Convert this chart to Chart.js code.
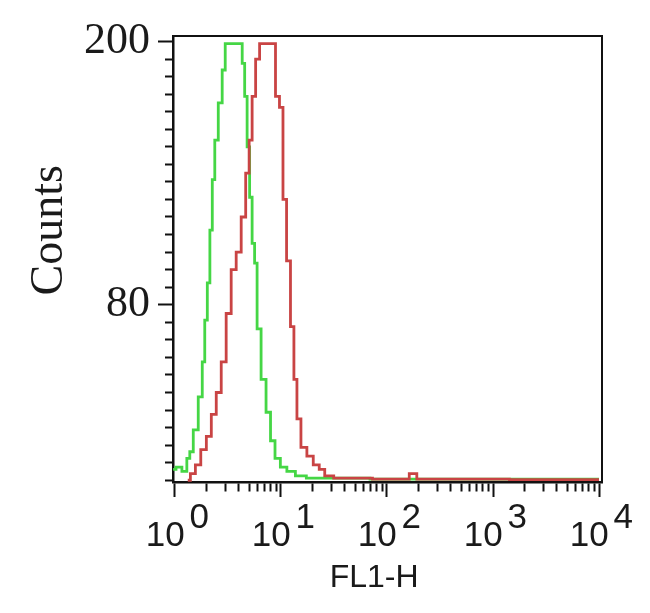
<!DOCTYPE html>
<html><head><meta charset="utf-8">
<script src="https://cdn.jsdelivr.net/npm/chart.js@4.4.0/dist/chart.umd.min.js"></script>
<style>html,body{margin:0;padding:0;background:#fff}#wrap{width:650px;height:613px}</style>
</head><body><div id="wrap"><canvas id="c" width="650" height="613"></canvas></div>
<script>
// FL1-H channel values and counts
const greenFL1 = [0.96,1.09,1.24,1.35,1.41,1.57,1.75,1.87,1.95,2.09,2.18,2.32,2.43,2.70,2.88,3.08,3.58,4.17,4.45,4.64,4.95,5.17,5.52,5.76,6.15,6.85,7.63,8.32,9.27,10.5,12.3,15.2,19.8,36.2,132,10000];
const greenCounts = [5,6,4,10,13,23,38,54,73,90,114,137,155,172,187,199,199,199,190,175,152,129,108,99,69,46,31,18,10,6,4,2,1,1,0.5,0.5];
const redFL1 = [1.32,1.48,1.64,1.87,2.09,2.32,2.59,2.88,3.21,3.58,3.99,4.45,4.85,5.17,5.52,6.02,6.56,7.47,8.50,9.27,10.1,10.8,11.8,12.8,13.7,14.6,16.3,18.9,21.5,24.5,27.3,36.2,147,179,204,10000];
const redCounts = [0,3,7,14,20,30,40,54,76,96,104,120,140,155,175,192,199,199,199,175,170,128,100,70,46,28,15,11,7,5,2,1,0.5,3,0.5,0.3];

const xDecades = [1, 10, 100, 1000, 10000];
const xExponents = ['0', '1', '2', '3', '4'];
const xMinorMultipliers = [2, 3, 4, 5, 6, 7, 8, 9];
const yTickValues = [0,8,16,24,32,40,48,56,64,72,80,88,96,104,112,120,128,136,144,152,160,168,176,184,192,200];
const yLabeledTicks = [80, 200];
const xTitle = 'FL1-H';
const yTitle = 'Counts';

const xTickValues = xDecades.slice();
xDecades.slice(0, -1).forEach(d => xMinorMultipliers.forEach(m => xTickValues.push(d * m)));
xTickValues.sort((a, b) => a - b);

const isMajorX = v => xDecades.some(d => Math.abs(d - v) < 1e-9 * d);
const isLabeledY = v => yLabeledTicks.includes(v);

const framePlugin = {
  id: 'frame',
  afterDraw(chart) {
    const {ctx, chartArea: a} = chart;
    ctx.save();
    ctx.strokeStyle = '#111';
    ctx.lineWidth = 2;
    ctx.beginPath();
    ctx.moveTo(a.left, a.top); ctx.lineTo(a.right, a.top); ctx.lineTo(a.right, a.bottom);
    ctx.stroke();
    ctx.restore();
  }
};

const sansFont = "'Liberation Sans', Arial, sans-serif";
const serifFont = "'Liberation Serif', 'Times New Roman', serif";

new Chart(document.getElementById('c'), {
  type: 'line',
  data: {
    datasets: [
      {
        label: 'red',
        data: redFL1.map((v, i) => ({x: v, y: redCounts[i]})),
        borderColor: '#c94444',
        borderWidth: 2.8,
        pointRadius: 0,
        stepped: 'middle',
        fill: false
      },
      {
        label: 'green',
        data: greenFL1.map((v, i) => ({x: v, y: greenCounts[i]})),
        borderColor: '#45d645',
        borderWidth: 2.8,
        pointRadius: 0,
        stepped: 'middle',
        fill: false
      }
    ]
  },
  options: {
    responsive: false,
    animation: false,
    devicePixelRatio: 1,
    layout: {padding: {top: 36, right: 48, left: 0, bottom: 0}},
    plugins: {legend: {display: false}, tooltip: {enabled: false}},
    scales: {
      x: {
        type: 'logarithmic',
        position: 'bottom',
        min: 0.958,
        max: 10670,
        afterBuildTicks: axis => { axis.ticks = xTickValues.map(v => ({value: v})); },
        afterFit: axis => { axis.height = 131; },
        border: {display: true, color: '#111', width: 2.5},
        grid: {
          drawOnChartArea: false,
          drawTicks: true,
          tickLength: 15,
          tickWidth: 2,
          tickColor: '#111',
          tickBorderDash: ctx => isMajorX(ctx.tick.value) ? [] : [8, 100]
        },
        ticks: {
          autoSkip: false,
          maxRotation: 0,
          minRotation: 0,
          padding: 13,
          color: '#1a1a1a',
          font: {family: sansFont, size: 35, lineHeight: 0.5},
          callback: (v) => {
            const i = xDecades.findIndex(d => Math.abs(d - v) < 1e-9 * d);
            return i < 0 ? '' : ['     ' + xExponents[i], '10  '];
          }
        },
        title: {
          display: true,
          text: xTitle + '   ',
          color: '#1a1a1a',
          font: {family: sansFont, size: 32},
          padding: {top: 0, bottom: 16}
        }
      },
      y: {
        type: 'linear',
        position: 'left',
        min: -0.8,
        max: 202.5,
        afterBuildTicks: axis => { axis.ticks = yTickValues.map(v => ({value: v})); },
        afterFit: axis => { axis.width = 173; },
        border: {display: true, color: '#111', width: 2.5},
        grid: {
          drawOnChartArea: false,
          drawTicks: true,
          tickLength: 15,
          tickWidth: 2,
          tickColor: '#111',
          tickBorderDash: ctx => isLabeledY(ctx.tick.value) ? [] : [0, 7, 8, 100]
        },
        ticks: {
          autoSkip: false,
          padding: 8,
          color: '#1a1a1a',
          font: {family: serifFont, size: 44},
          callback: v => isLabeledY(v) ? String(v) : ''
        },
        title: {
          display: true,
          text: '     ' + yTitle,
          color: '#1a1a1a',
          font: {family: serifFont, size: 46},
          padding: {top: 22, bottom: 0}
        }
      }
    }
  },
  plugins: [framePlugin]
});
</script>
</body></html>
